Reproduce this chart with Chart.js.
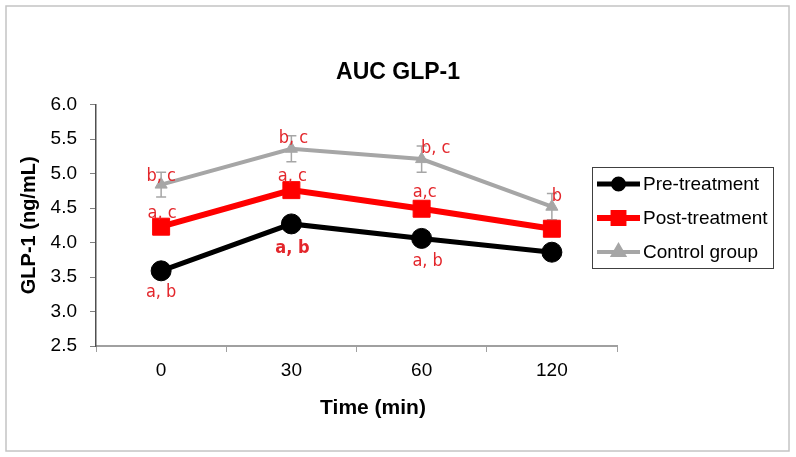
<!DOCTYPE html>
<html>
<head>
<meta charset="utf-8">
<title>AUC GLP-1</title>
<script src="https://cdn.jsdelivr.net/npm/chart.js@4.4.0/dist/chart.umd.min.js"></script>
<style>
  html, body { margin: 0; padding: 0; background: #fff; }
  #wrap { width: 796px; height: 457px; }
</style>
</head>
<body>
<div id="wrap"><canvas id="glp-chart" width="796" height="457"></canvas></div>
<script>
/* ── DATA ── */
const TIMES        = ['0', '30', '60', '120'];
const PRE          = [3.59, 4.27, 4.06, 3.86];
const POST         = [4.23, 4.76, 4.49, 4.20];
const CONTROL      = [4.84, 5.36, 5.21, 4.52];
const PRE_ERR      = [0.09, 0.08, 0.08, 0.08];
const POST_ERR     = [0.08, 0.08, 0.08, 0.08];
const CONTROL_ERR  = [0.18, 0.19, 0.19, 0.19];
const PRE_NOTES    = ['a, b', 'a, b', 'a, b', ''];
const POST_NOTES   = ['a, c', 'a, c', 'a,c', ''];
const CONTROL_NOTES = ['b, c', 'b, c', 'b, c', 'b'];
const Y_MIN = 2.5, Y_MAX = 6.0, Y_STEP = 0.5;

/* ── STYLE ── */
const NOTE_RED  = '#e3262b';
const NOTE_FONT = '"Liberation Sans Narrow", "DejaVu Sans Condensed", "Open Sans", sans-serif';
/* label offsets from the marker, px */
const NOTE_OFFSETS = {
  pre:     [[0, 22], [1, 24], [6, 23], [0, 0]],
  post:    [[1, -13], [1, -14], [3, -16], [0, 0]],
  control: [[0, -8], [2, -10], [14, -11], [5, -10]]
};
const BOLD_NOTES = { pre: [false, true, false, false] };

/* ═══ error bars (under markers) ═══ */
const errorBars = {
  id: 'errorBars',
  beforeDatasetsDraw(chart) {
    const { ctx } = chart;
    const y = chart.scales.y;
    chart.data.datasets.forEach((ds, i) => {
      const meta = chart.getDatasetMeta(i);
      ctx.save();
      ctx.strokeStyle = ds.borderColor;
      ctx.lineWidth = 1.5;
      meta.data.forEach((pt, j) => {
        const v = ds.data[j], e = ds.errors[j];
        const top = y.getPixelForValue(v + e);
        const bot = y.getPixelForValue(v - e);
        ctx.beginPath();
        ctx.moveTo(pt.x, top); ctx.lineTo(pt.x, bot);
        ctx.moveTo(pt.x - 5, top); ctx.lineTo(pt.x + 5, top);
        ctx.moveTo(pt.x - 5, bot); ctx.lineTo(pt.x + 5, bot);
        ctx.stroke();
      });
      ctx.restore();
    });
  }
};

/* ═══ significance letters, legend, frame, x title ═══ */
const extras = {
  id: 'extras',
  afterDatasetsDraw(chart) {
    const { ctx } = chart;
    chart.data.datasets.forEach((ds, i) => {
      const meta = chart.getDatasetMeta(i);
      const offs = NOTE_OFFSETS[ds.key];
      const bold = BOLD_NOTES[ds.key] || [];
      meta.data.forEach((pt, j) => {
        const txt = ds.notes[j];
        if (!txt) return;
        ctx.save();
        ctx.fillStyle = NOTE_RED;
        ctx.font = (bold[j] ? 'bold ' : '') + '18px ' + NOTE_FONT;
        ctx.textAlign = 'center';
        ctx.textBaseline = 'middle';
        ctx.fillText(txt, pt.x + offs[j][0], pt.y + offs[j][1]);
        ctx.restore();
      });
    });
  },
  afterDraw(chart) {
    const { ctx } = chart;
    ctx.save();

    /* outer frame */
    ctx.strokeStyle = '#c4c4c4';
    ctx.lineWidth = 1.5;
    ctx.strokeRect(6, 6, 783, 445);

    /* x axis title */
    ctx.fillStyle = '#000';
    ctx.font = 'bold 21px Arial, "Liberation Sans", sans-serif';
    ctx.textAlign = 'center';
    ctx.textBaseline = 'middle';
    ctx.fillText('Time (min)', 373, 408);

    /* legend */
    const lx = 592, ly = 167, lw = 181, lh = 101;
    ctx.strokeStyle = '#404040';
    ctx.lineWidth = 1;
    ctx.strokeRect(lx + 0.5, ly + 0.5, lw, lh);
    ctx.font = '19px Arial, "Liberation Sans", sans-serif';
    ctx.textAlign = 'left';
    chart.data.datasets.forEach((ds, i) => {
      const cy = 184 + i * 34;
      ctx.strokeStyle = ds.borderColor;
      ctx.lineWidth = ds.borderWidth;
      ctx.beginPath();
      ctx.moveTo(597, cy); ctx.lineTo(640, cy);
      ctx.stroke();
      Chart.helpers.drawPoint(ctx, {
        pointStyle: ds.pointStyle,
        radius: ds.legendRadius,
        borderWidth: 1
      }, 618.5, cy);
      ctx.fillStyle = ds.borderColor;
      ctx.fill();
      ctx.fillStyle = '#000';
      ctx.fillText(ds.label, 643, cy + 1);
    });
    ctx.restore();
  }
};

function makeSet(key, label, data, errors, notes, color, width, style, radius, legendRadius) {
  return {
    key, label, data, errors, notes,
    borderColor: color,
    backgroundColor: color,
    borderWidth: width,
    pointStyle: style,
    pointRadius: radius,
    pointHoverRadius: radius,
    pointBackgroundColor: color,
    pointBorderColor: color,
    pointBorderWidth: 1,
    legendRadius,
    tension: 0,
    fill: false
  };
}

const datasets = [
  makeSet('pre',     'Pre-treatment',  PRE,     PRE_ERR,     PRE_NOTES,     '#000000', 5, 'circle',   10, 5),
  makeSet('post',    'Post-treatment', POST,    POST_ERR,    POST_NOTES,    '#ff0000', 6, 'rect',     12, 7),
  makeSet('control', 'Control group',  CONTROL, CONTROL_ERR, CONTROL_NOTES, '#a6a6a6', 4, 'triangle', 7, 6)
];

const TICK_FONT = { family: 'Arial, "Liberation Sans", sans-serif', size: 19 };

new Chart(document.getElementById('glp-chart').getContext('2d'), {
  type: 'line',
  data: { labels: TIMES, datasets },
  options: {
    responsive: false,
    animation: false,
    layout: { padding: 0 },
    plugins: {
      legend: { display: false },
      tooltip: { enabled: false },
      title: {
        display: true,
        text: 'AUC GLP-1',
        color: '#000',
        font: { family: 'Arial, "Liberation Sans", sans-serif', size: 23, weight: 'bold' },
        padding: { top: 59, bottom: 18 }
      }
    },
    scales: {
      x: {
        type: 'category',
        offset: true,
        grid: { drawOnChartArea: false, drawTicks: true, tickLength: 6, color: '#a0a0a0', offset: true },
        border: { color: '#a0a0a0', width: 2 },
        ticks: { font: TICK_FONT, color: '#000', padding: 7, maxRotation: 0 },
        afterFit(s) { s.height = 111; }
      },
      y: {
        min: Y_MIN, max: Y_MAX,
        grid: { drawOnChartArea: false, drawTicks: true, tickLength: 6, color: '#808080' },
        border: { color: '#505050', width: 1.5 },
        ticks: {
          stepSize: Y_STEP, font: TICK_FONT, color: '#000', padding: 13,
          callback: v => v.toFixed(1)
        },
        title: {
          display: true,
          text: 'GLP-1 (ng/mL)',
          color: '#000',
          font: { family: 'Arial, "Liberation Sans", sans-serif', size: 20, weight: 'bold' },
          padding: { top: 17, bottom: 0 }
        },
        afterFit(s) { s.width = 96; }
      },
      yPad: {
        position: 'right',
        display: true,
        grid: { display: false },
        border: { display: false },
        ticks: { display: false },
        afterFit(s) { s.width = 179; }
      }
    }
  },
  plugins: [errorBars, extras]
});
</script>
</body>
</html>
